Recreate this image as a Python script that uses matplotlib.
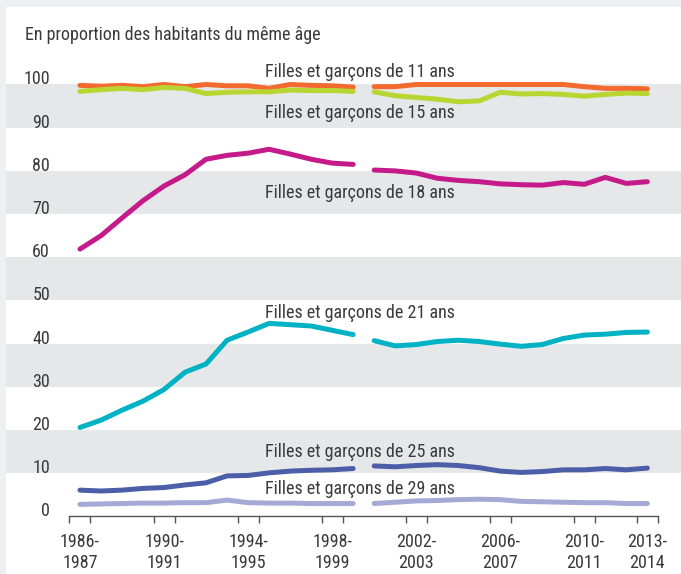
import matplotlib.pyplot as plt
import matplotlib.transforms as mtransforms
from matplotlib.patches import Rectangle
import numpy as np

# school years (a break in the series between 1999-2000 and 2000-2001)
years = [f"{y}-\n{y + 1}" for y in range(1986, 2014)]
break_at = 14  # index of 2000-2001, first point of the second segment

age_11 = [99.8, 99.6, 99.8, 99.5, 100.0, 99.5, 100.0, 99.7, 99.7, 99.1, 100.0, 99.8, 99.7, 99.4,
          99.5, 99.5, 100.0, 100.0, 100.0, 100.0, 100.0, 100.0, 100.0, 100.0, 99.5, 99.1, 99.1, 99.0]
age_15 = [98.4, 98.8, 99.1, 98.8, 99.3, 99.1, 97.9, 98.2, 98.3, 98.3, 98.7, 98.6, 98.6, 98.4,
          98.3, 97.4, 97.0, 96.6, 96.0, 96.2, 98.2, 97.8, 97.9, 97.7, 97.3, 97.7, 98.0, 97.9]
age_18 = [61.9, 65.0, 69.1, 73.1, 76.5, 79.1, 82.7, 83.6, 84.1, 85.0, 83.9, 82.7, 81.8, 81.5,
          80.2, 80.0, 79.5, 78.3, 77.8, 77.5, 77.0, 76.8, 76.7, 77.3, 76.9, 78.5, 77.1, 77.5]
age_21 = [20.6, 22.3, 24.6, 26.7, 29.4, 33.4, 35.3, 40.8, 42.7, 44.7, 44.4, 44.1, 43.1, 42.1,
          40.7, 39.5, 39.8, 40.5, 40.8, 40.5, 39.9, 39.4, 39.8, 41.2, 42.0, 42.2, 42.6, 42.7]
age_25 = [6.1, 5.9, 6.1, 6.5, 6.7, 7.3, 7.8, 9.4, 9.5, 10.1, 10.5, 10.7, 10.8, 11.1,
          11.7, 11.5, 11.8, 12.0, 11.8, 11.3, 10.5, 10.2, 10.4, 10.8, 10.8, 11.1, 10.8, 11.2]
age_29 = [2.8, 2.9, 3.0, 3.1, 3.1, 3.2, 3.2, 3.8, 3.2, 3.1, 3.1, 3.0, 3.0, 3.0,
          3.0, 3.3, 3.6, 3.7, 3.9, 4.0, 3.9, 3.5, 3.4, 3.3, 3.2, 3.2, 3.0, 3.0]

series = [
    ("Filles et garçons de 11 ans", age_11, "#f26a2e", 103.0),
    ("Filles et garçons de 15 ans", age_15, "#b9d532", 93.3),
    ("Filles et garçons de 18 ans", age_18, "#c51b8a", 74.8),
    ("Filles et garçons de 21 ans", age_21, "#00b2c4", 47.2),
    ("Filles et garçons de 25 ans", age_25, "#4d5ea9", 15.0),
    ("Filles et garçons de 29 ans", age_29, "#a5a9d6", 6.4),
]
labeled = [0, 4, 8, 12, 16, 20, 24, 27]

font = ['Liberation Sans Narrow', 'Roboto Condensed', 'DejaVu Sans']
plt.rcParams['font.family'] = font
txt_color = '#3a3a3a'

fig = plt.figure(figsize=(6.81, 5.74), dpi=100)
fig.patch.set_facecolor('#eef0f3')

# white panel behind everything
bg = fig.add_axes([0, 0, 1, 1], zorder=-10)
bg.set_axis_off()
bg.add_patch(Rectangle((6 / 681, 0), 1, 1 - 7 / 574, transform=fig.transFigure,
                       facecolor='white', edgecolor='none'))

ax = fig.add_axes([0.102, 0.1002, 0.864, 0.7526], zorder=1)
ax.set_facecolor('none')
x = np.arange(len(years))

# grey horizontal bands spanning the whole panel
band_tr = mtransforms.blended_transform_factory(fig.transFigure, ax.transData)
for lo in [10, 30, 50, 70, 90]:
    ax.add_patch(Rectangle((6 / 681, lo), 1, 10, transform=band_tr, facecolor='#e6e7e9',
                           edgecolor='none', clip_on=False, zorder=0))

for label, vals, color, ly in series:
    vals = np.array(vals)
    for seg in (slice(0, break_at), slice(break_at, None)):
        ax.plot(x[seg], vals[seg], color=color, lw=3.6, solid_capstyle='round',
                solid_joinstyle='round', clip_on=False, zorder=3)
    ax.text(13.3, ly, label, ha='center', va='center', fontsize=13, color=txt_color,
            zorder=4)

ax.set_xlim(-0.5, len(years) - 0.5)
ax.set_ylim(0, 100)

# y labels sitting on the band edges
for v in range(0, 101, 10):
    ax.text(50 / 681, v, str(v), transform=band_tr, ha='right', va='baseline',
            fontsize=13, color=txt_color)
ax.set_yticks([])

ax.set_xticks(labeled)
ax.set_xticklabels([years[i] for i in labeled], fontsize=13, color=txt_color)
ax.set_xticks([c + d for c in labeled for d in (-0.5, 0.5)], minor=True)
ax.tick_params(axis='x', which='major', length=0, pad=12)
ax.tick_params(axis='x', which='minor', length=5, width=1, color='#555555')

for s in ['top', 'right', 'left']:
    ax.spines[s].set_visible(False)
ax.spines['bottom'].set_color('#555555')
ax.spines['bottom'].set_linewidth(1)

fig.text(25 / 681, 1 - 35 / 574, "En proportion des habitants du même âge", ha='left',
         va='center', fontsize=13, color=txt_color)

fig.savefig("out.png", dpi=100)
